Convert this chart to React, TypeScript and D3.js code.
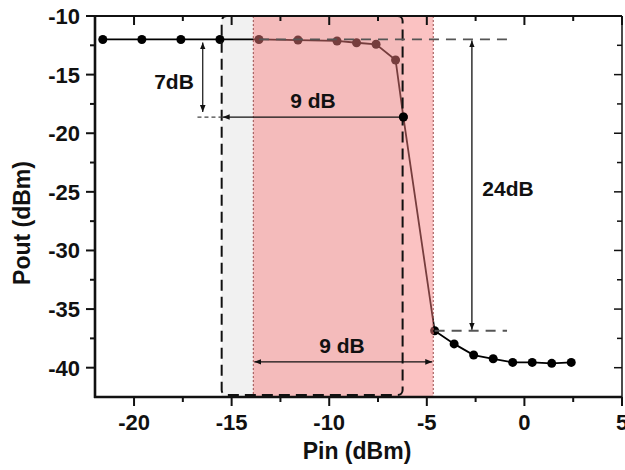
import React from 'react';
import * as d3 from 'd3';

const pinValues = [-21.6, -19.6, -17.6, -15.6, -13.6, -11.6, -9.6, -8.6, -7.6, -6.6, -6.2, -4.6, -3.6, -2.6, -1.6, -0.6, 0.4, 1.4, 2.4];
const poutValues = [-12, -12, -12, -12, -12, -12.05, -12.13, -12.28, -12.41, -13.75, -18.62, -36.85, -37.97, -38.92, -39.24, -39.55, -39.55, -39.63, -39.55];
const xTicks = [-20, -15, -10, -5, 0, 5];
const xMinorTicks = [-17.5, -12.5, -7.5, -2.5, 2.5];
const yTicks = [-10, -15, -20, -25, -30, -35, -40];
const yMinorTicks = [-12.5, -17.5, -22.5, -27.5, -32.5, -37.5];

// annotation values (dBm)
const greyStart = -15.51;
const dashedEnd = -6.24;
const redStart = -13.89;
const redEnd = -4.67;
const kneeIn = -6.2;
const kneeOut = -18.62;
const highOut = -12;
const lowIn = -4.6;
const lowOut = -36.85;
const arrow7x = -16.48;
const arrow24x = -2.69;
const dashRefEnd = -0.89;
const arrow9lowY = -39.5;

const W = 625, H = 470;
const L = 95, R = 622, T = 16, B = 397;
const FONT = '"Liberation Sans", Arial, sans-serif';

export default function App() {
  const x = d3.scaleLinear().domain([-22, 5]).range([L, R]);
  const y = d3.scaleLinear().domain([-42.5, -10]).range([B, T]);
  const pts = pinValues.map((v, i) => [v, poutValues[i]] as [number, number]);
  const line = d3.line<[number, number]>().x(d => x(d[0])).y(d => y(d[1]));

  return (
    <svg width={W} height={H} style={{ position: 'absolute', left: 0, top: 0, background: '#fff' }}>
      <defs>
        <marker id="ah" viewBox="0 0 10 10" refX="10" refY="5" markerWidth="7" markerHeight="7" orient="auto-start-reverse" markerUnits="userSpaceOnUse">
          <path d="M0,1 L10,5 L0,9 z" fill="#111" />
        </marker>
      </defs>
      {/* grey region (dashed rectangle fill) */}
      <rect x={x(greyStart)} y={T} width={x(dashedEnd) - x(greyStart)} height={B - T} fill="rgba(0,0,0,0.055)" />
      {/* data */}
      <path d={line(pts) || ''} fill="none" stroke="#000" strokeWidth={1.8} />
      {pts.map((p, i) => (
        <circle key={i} cx={x(p[0])} cy={y(p[1])} r={4.5} fill="#000" />
      ))}
      {/* red region over data */}
      <rect x={x(redStart)} y={T} width={x(redEnd) - x(redStart)} height={B - T} fill="rgb(246,128,128)" fillOpacity={0.48} />
      <line x1={x(redStart)} x2={x(redStart)} y1={T} y2={B} stroke="#9a4a4a" strokeWidth={1} strokeDasharray="2,2" />
      <line x1={x(redEnd)} x2={x(redEnd)} y1={T} y2={B} stroke="#9a4a4a" strokeWidth={1} strokeDasharray="2,2" />
      {/* dashed rounded rectangle */}
      <rect x={x(greyStart)} y={T} width={x(dashedEnd) - x(greyStart)} height={B - T - 2} rx={5} fill="none" stroke="#111" strokeWidth={2} strokeDasharray="11,6" />
      {/* reference dashed lines */}
      <line x1={x(-13.6)} x2={x(dashRefEnd)} y1={y(highOut)} y2={y(highOut)} stroke="#555" strokeWidth={1.8} strokeDasharray="10,7" />
      <line x1={x(lowIn)} x2={x(dashRefEnd)} y1={y(lowOut)} y2={y(lowOut)} stroke="#555" strokeWidth={1.8} strokeDasharray="10,7" />
      <line x1={x(-16.75)} x2={x(greyStart)} y1={y(kneeOut)} y2={y(kneeOut)} stroke="#444" strokeWidth={1.3} strokeDasharray="4,3" />
      {/* arrows */}
      <line x1={x(arrow7x)} x2={x(arrow7x)} y1={y(highOut) + 3} y2={y(kneeOut) - 5} stroke="#111" strokeWidth={1.2} markerStart="url(#ah)" markerEnd="url(#ah)" />
      <line x1={x(greyStart) + 1} x2={x(kneeIn)} y1={y(kneeOut)} y2={y(kneeOut)} stroke="#111" strokeWidth={1.2} markerStart="url(#ah)" />
      <line x1={x(arrow24x)} x2={x(arrow24x)} y1={y(highOut) + 1} y2={y(lowOut) - 1} stroke="#111" strokeWidth={1.3} markerStart="url(#ah)" markerEnd="url(#ah)" />
      <line x1={x(redStart) + 1} x2={x(redEnd) - 1} y1={y(arrow9lowY)} y2={y(arrow9lowY)} stroke="#111" strokeWidth={1.2} markerStart="url(#ah)" markerEnd="url(#ah)" />
      {/* knee point on top */}
      <circle cx={x(kneeIn)} cy={y(kneeOut)} r={4.5} fill="#000" />
      {/* labels */}
      <g fontFamily={FONT} fontWeight="bold" fill="#111">
        <text x={174} y={89} fontSize={21} textAnchor="middle">7dB</text>
        <text x={313} y={108} fontSize={21} textAnchor="middle">9 dB</text>
        <text x={508} y={196} fontSize={21} textAnchor="middle">24dB</text>
        <text x={342} y={353} fontSize={21} textAnchor="middle">9 dB</text>
      </g>
      {/* frame */}
      <line x1={L} x2={R} y1={T} y2={T} stroke="#111" strokeWidth={2} />
      <line x1={R} x2={R} y1={T} y2={B} stroke="#111" strokeWidth={1.5} />
      <line x1={L} x2={L} y1={T - 1} y2={B + 1} stroke="#111" strokeWidth={2.6} />
      <line x1={L - 1} x2={R} y1={B} y2={B} stroke="#111" strokeWidth={2.6} />
      {/* x ticks */}
      {xTicks.map(t => (
        <g key={'x' + t}>
          <line x1={x(t)} x2={x(t)} y1={B} y2={B + 9} stroke="#111" strokeWidth={2} />
          <line x1={x(t)} x2={x(t)} y1={T} y2={T + 9} stroke="#111" strokeWidth={2} />
          <text x={x(t)} y={430} textAnchor="middle" fontFamily={FONT} fontWeight="bold" fontSize={22} fill="#111">{t}</text>
        </g>
      ))}
      {xMinorTicks.map(t => (
        <g key={'xm' + t}>
          <line x1={x(t)} x2={x(t)} y1={B} y2={B + 5} stroke="#111" strokeWidth={2} />
          <line x1={x(t)} x2={x(t)} y1={T} y2={T + 5} stroke="#111" strokeWidth={2} />
        </g>
      ))}
      {/* y ticks */}
      {yTicks.map(t => (
        <g key={'y' + t}>
          <line x1={L - 9} x2={L} y1={y(t)} y2={y(t)} stroke="#111" strokeWidth={2} />
          <line x1={R - 8} x2={R} y1={y(t)} y2={y(t)} stroke="#111" strokeWidth={1.5} />
          <text x={80} y={y(t) + 8} textAnchor="end" fontFamily={FONT} fontWeight="bold" fontSize={22} fill="#111">{t}</text>
        </g>
      ))}
      {yMinorTicks.map(t => (
        <g key={'ym' + t}>
          <line x1={L - 5} x2={L} y1={y(t)} y2={y(t)} stroke="#111" strokeWidth={2} />
          <line x1={R - 5} x2={R} y1={y(t)} y2={y(t)} stroke="#111" strokeWidth={1.5} />
        </g>
      ))}
      {/* axis titles */}
      <text x={357} y={459} textAnchor="middle" fontFamily={FONT} fontWeight="bold" fontSize={23} fill="#111">Pin (dBm)</text>
      <text transform="translate(30,223) rotate(-90)" textAnchor="middle" fontFamily={FONT} fontWeight="bold" fontSize={23} fill="#111">Pout (dBm)</text>
    </svg>
  );
}
